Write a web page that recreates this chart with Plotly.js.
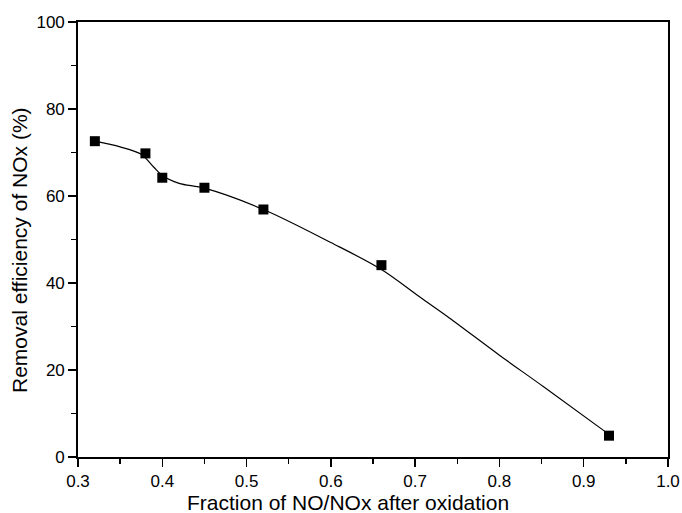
<!DOCTYPE html>
<html>
<head>
<meta charset="utf-8">
<script src="https://cdn.plot.ly/plotly-3.0.1.min.js"></script>
<style>html,body{margin:0;padding:0;background:#fff;}#chart{width:682px;height:513px;}</style>
</head>
<body>
<div id="chart"></div>
<script>
// Measured points
const fractionNO = [0.32, 0.38, 0.40, 0.45, 0.52, 0.66, 0.93];
const removalEff = [72.6, 69.8, 64.2, 61.9, 56.9, 44.1, 4.9];

// Fitted curve
const fitX = [0.32, 0.35, 0.375, 0.39, 0.40, 0.42, 0.45, 0.52, 0.60, 0.66, 0.706, 0.741, 0.80, 0.852, 0.93];
const fitY = [72.6, 71.3, 69.6, 66.6, 64.7, 62.9, 61.8, 56.9, 49.3, 43.1, 36.7, 31.9, 23.4, 16.2, 5.2];

const xTicks = [0.3, 0.4, 0.5, 0.6, 0.7, 0.8, 0.9, 1.0];
const xTickText = ['0.3', '0.4', '0.5', '0.6', '0.7', '0.8', '0.9', '1.0'];
const yTicks = [0, 20, 40, 60, 80, 100];

const xTitle = 'Fraction of NO/NOx after oxidation';
const yTitle = 'Removal efficiency of NOx (%)';

const fontFam = 'Liberation Sans, Arial, sans-serif';

const traces = [
  {
    x: fitX, y: fitY, type: 'scatter', mode: 'lines',
    line: {color: '#000', width: 1.2, shape: 'spline', smoothing: 0.9},
    hoverinfo: 'skip', showlegend: false
  },
  {
    x: fractionNO, y: removalEff, type: 'scatter', mode: 'markers',
    marker: {symbol: 'square', size: 10, color: '#000'},
    showlegend: false
  }
];

const axisCommon = {
  showline: true, linecolor: '#000', linewidth: 1.8, mirror: true,
  ticks: 'outside', ticklen: 8, tickwidth: 1.5, tickcolor: '#000',
  showgrid: false, zeroline: false,
  tickfont: {family: fontFam, size: 17, color: '#000'}
};

const layout = {
  width: 682, height: 513,
  margin: {l: 78, r: 14, t: 22, b: 56},
  paper_bgcolor: '#fff', plot_bgcolor: '#fff',
  font: {family: fontFam, color: '#000'},
  xaxis: Object.assign({}, axisCommon, {
    range: [0.3, 1.0],
    tickvals: xTicks, ticktext: xTickText,
    minor: {dtick: 0.05, ticks: 'outside', ticklen: 5, tickwidth: 1.5, tickcolor: '#000'}
  }),
  yaxis: Object.assign({}, axisCommon, {
    range: [0, 100],
    tickvals: yTicks,
    minor: {dtick: 10, ticks: 'outside', ticklen: 5, tickwidth: 1.5, tickcolor: '#000'}
  }),
  annotations: [
    {
      text: xTitle, xref: 'paper', yref: 'paper', x: 0.4576, y: -0.1035,
      xanchor: 'center', yanchor: 'middle', showarrow: false,
      height: 21, borderpad: 0, valign: 'middle',
      font: {family: fontFam, size: 21, color: '#000'}
    },
    {
      text: yTitle, xref: 'paper', yref: 'paper', x: -0.0983, y: 0.4759,
      xanchor: 'center', yanchor: 'middle', showarrow: false, textangle: -90,
      font: {family: fontFam, size: 21, color: '#000'}
    }
  ]
};

Plotly.newPlot('chart', traces, layout, {displayModeBar: false, staticPlot: true});
</script>
</body>
</html>
